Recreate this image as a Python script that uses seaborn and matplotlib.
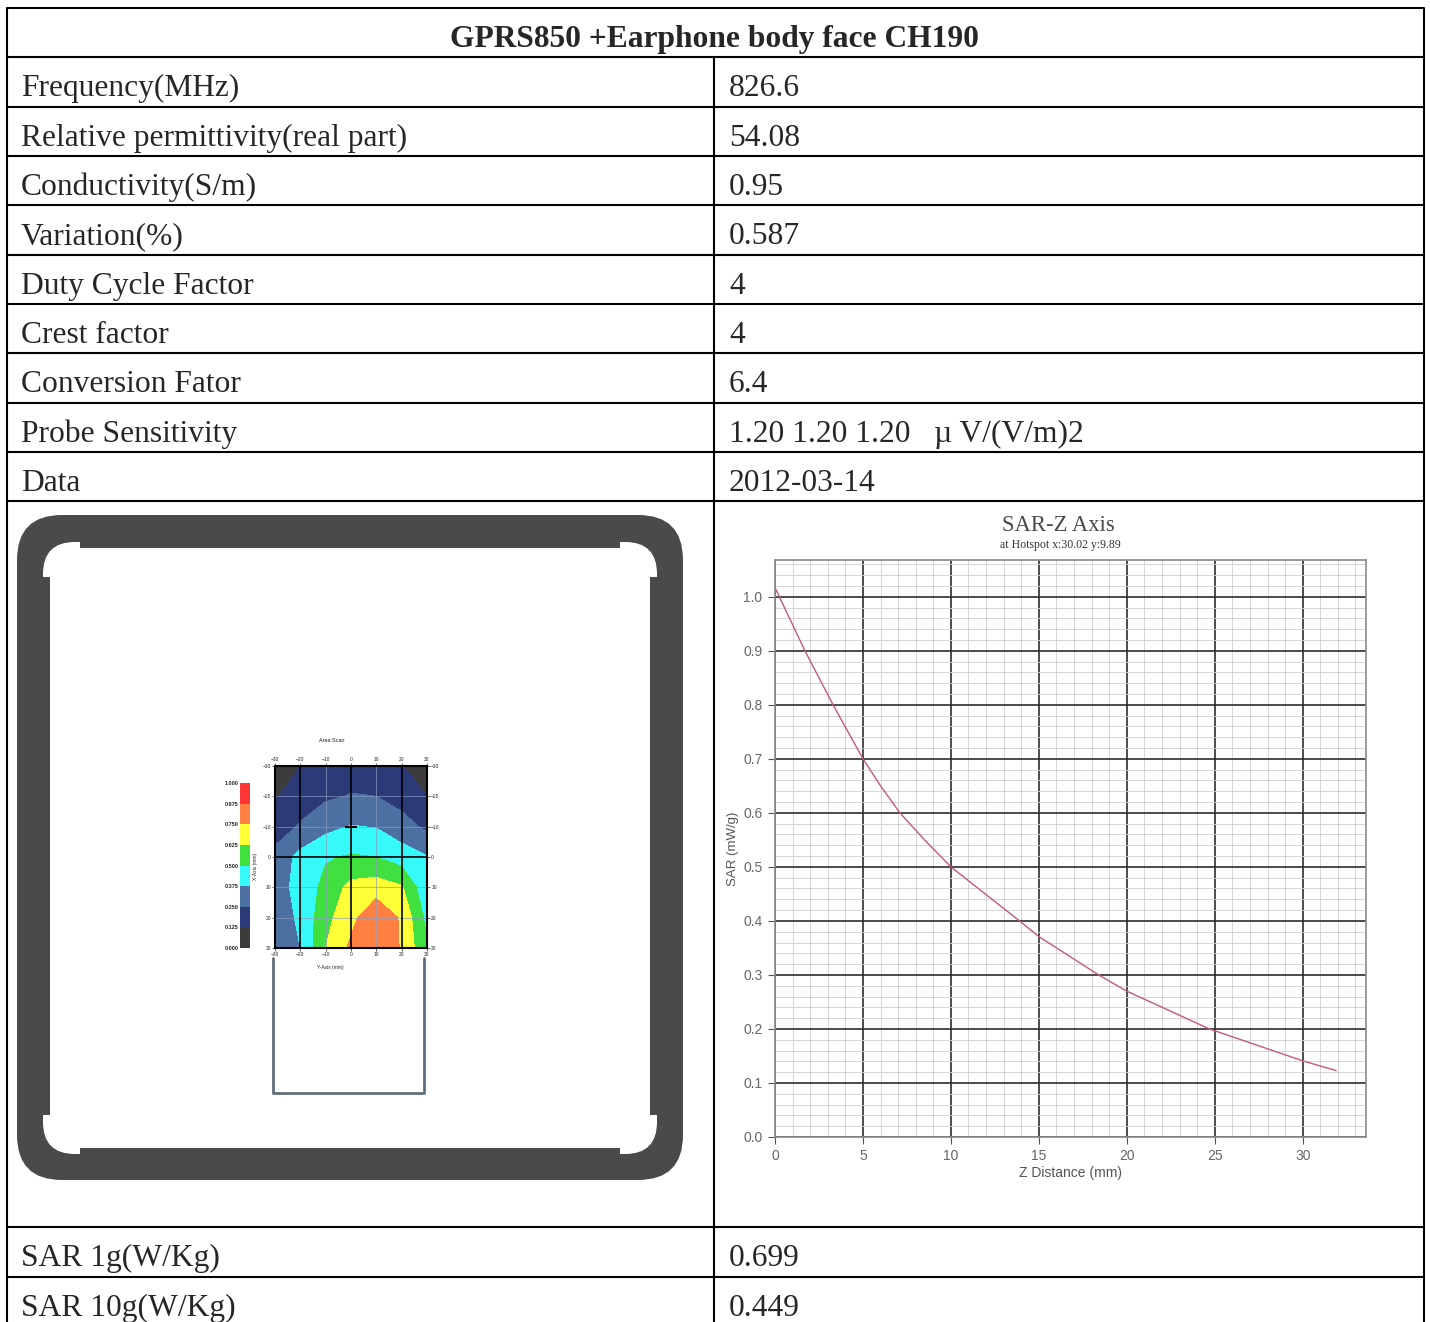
import numpy as np
import matplotlib
matplotlib.use("Agg")
import matplotlib.pyplot as plt
import seaborn as sns
from matplotlib.patches import FancyBboxPatch, Rectangle
from matplotlib.ticker import MultipleLocator, FormatStrFormatter

# --- Table content ---
header = "GPRS850 +Earphone body face CH190"
param_names = [
    "Frequency(MHz)",
    "Relative permittivity(real part)",
    "Conductivity(S/m)",
    "Variation(%)",
    "Duty Cycle Factor",
    "Crest factor",
    "Conversion Fator",
    "Probe Sensitivity",
    "Data",
]
param_values = [
    "826.6",
    "54.08",
    "0.95",
    "0.587",
    "4",
    "4",
    "6.4",
    "1.20 1.20 1.20   \u00b5 V/(V/m)2",
    "2012-03-14",
]
result_names = ["SAR 1g(W/Kg)", "SAR 10g(W/Kg)"]
result_values = ["0.699", "0.449"]

# --- SAR vs Z distance ---
z_mm = [0.0, 1.7, 3.3, 5.0, 6.0, 7.1, 8.5, 10.0, 13.9, 15.0, 18.4, 20.0, 24.7, 30.0, 31.9]
sar_mwg = [1.017, 0.90, 0.80, 0.70, 0.65, 0.60, 0.55, 0.50, 0.40, 0.371, 0.30, 0.27,
           0.20, 0.141, 0.123]

# --- Area scan levels (rows: X axis, cols: Y axis, in mm) ---
area_y = [-30, -20, -10, 0, 10, 20, 30]
area_x = [-30, -20, -10, 0, 10, 20, 30]
area_level = [
    [0.3, 1.0, 1.4, 1.6, 1.5, 1.05, 0.4],
    [0.9, 1.5, 1.85, 2.05, 2.0, 1.6, 1.0],
    [1.5, 2.1, 2.7, 3.05, 2.95, 2.4, 1.8],
    [2.3, 3.3, 3.9, 4.1, 4.0, 3.5, 3.05],
    [2.6, 3.3, 4.3, 5.3, 5.5, 5.1, 3.2],
    [2.5, 3.15, 4.7, 5.7, 6.85, 5.85, 3.7],
    [2.4, 3.0, 5.0, 6.2, 6.9, 5.9, 4.1],
]
level_bounds = [0, 1, 2, 3, 4, 5, 6, 7, 8]
level_labels = ["0.000", "0.125", "0.250", "0.375", "0.500",
                "0.625", "0.750", "0.875", "1.000"]
level_colors = ["#3c3c3c", "#2d3a78", "#4c70a2", "#36fafa",
                "#40e040", "#ffff38", "#ff8040", "#ff3434"]

sns.set_theme(style="white")
plt.rcParams["font.family"] = ["Liberation Sans", "DejaVu Sans"]

W, H = 1430, 1322
fig = plt.figure(figsize=(W / 100, H / 100), dpi=100)
bg = fig.add_axes([0, 0, 1, 1])
bg.set_xlim(0, W)
bg.set_ylim(H, 0)
bg.axis("off")


def px_axes(x0, y0, x1, y1):
    return fig.add_axes([x0 / W, 1 - y1 / H, (x1 - x0) / W, (y1 - y0) / H])


# --- table grid ---
row_lines = [8, 57, 107, 156, 205, 255, 304, 353, 403, 452, 501, 1227, 1277]
for y in row_lines:
    bg.plot([7, 1424], [y, y], color="black", lw=1.5, solid_capstyle="butt")
bg.plot([7, 7], [8, H], color="black", lw=1.5)
bg.plot([1424, 1424], [8, H], color="black", lw=1.5)
bg.plot([714, 714], [57, H], color="black", lw=1.5)

serif = "Liberation Serif"
fs = 22.7
bg.text(715, 47, header, ha="center", va="baseline", family=serif,
        fontsize=fs, fontweight="bold")
for top, name, val in zip(row_lines[1:10], param_names, param_values):
    bg.text(21, top + 39, name, va="baseline", family=serif, fontsize=fs)
    bg.text(729, top + 39, val, va="baseline", family=serif, fontsize=fs)
for top, name, val in zip(row_lines[11:], result_names, result_values):
    bg.text(21, top + 39, name, va="baseline", family=serif, fontsize=fs)
    bg.text(729, top + 39, val, va="baseline", family=serif, fontsize=fs)

# --- phone outline frame in left cell ---
dark = "#4a4a4a"
bg.add_patch(FancyBboxPatch((17, 515), 666, 665,
                            boxstyle="round,pad=0,rounding_size=45",
                            fc=dark, ec="none"))
bg.add_patch(FancyBboxPatch((43, 542), 614, 612,
                            boxstyle="round,pad=0,rounding_size=32",
                            fc="white", ec="none"))
bg.add_patch(Rectangle((80, 541), 540, 7, fc=dark, ec="none"))
bg.add_patch(Rectangle((80, 1148), 540, 7, fc=dark, ec="none"))
bg.add_patch(Rectangle((42, 577), 8, 538, fc=dark, ec="none"))
bg.add_patch(Rectangle((650, 577), 8, 538, fc=dark, ec="none"))

# outline below the area scan
bg.plot([273, 273, 424, 424], [958, 1093, 1093, 958], color="#5f6e7a", lw=2)

# --- area scan contour ---
hx = px_axes(275, 766, 427, 948)
cf = hx.contourf(area_y, area_x, area_level, levels=level_bounds, colors=level_colors)
hx.set_xlim(-30, 30)
hx.set_ylim(30, -30)
for v in (-10, 10):
    hx.axvline(v, color="#8a9bc0", lw=0.6, alpha=0.8)
for v in (-20, -10, 10, 20):
    hx.axhline(v, color="#8a9bc0", lw=0.6, alpha=0.8)
for v in (-20, 0, 20):
    hx.axvline(v, color="black", lw=1.2)
hx.axhline(0, color="black", lw=1.2)
hx.plot(0, -10, marker="_", color="black", ms=8, mew=1.5)
hx.set_xticks(area_y)
hx.set_yticks(area_x)
hx.tick_params(labelsize=3.5, length=2, width=0.5, bottom=True, left=True,
               top=True, right=True, labeltop=True, labelright=True, pad=1)
for s in hx.spines.values():
    s.set_color("black")
    s.set_linewidth(1.5)
bg.text(332, 741, "Area Scan", ha="center", va="center", fontsize=4)
bg.text(330, 967, "Y-Axis (mm)", ha="center", va="center", fontsize=3.5)
bg.text(256, 866, "X-Axis (mm)", ha="center", va="center", fontsize=3.5, rotation=90)

cax = px_axes(240, 783, 250, 948)
cb = fig.colorbar(cf, cax=cax, ticks=level_bounds)
cb.outline.set_visible(False)
cax.yaxis.set_ticks_position("left")
cb.set_ticklabels(level_labels)
cax.tick_params(labelsize=4, length=0, pad=1)
for lab in cax.get_yticklabels():
    lab.set_fontweight("bold")

# --- SAR-Z axis chart ---
ax = px_axes(775, 560, 1366, 1137)
sns.lineplot(x=z_mm, y=sar_mwg, ax=ax, color="#c65a72", lw=1.0)
ax.set_xlim(0, 33.6)
ax.set_ylim(0, 1.068)
ax.xaxis.set_major_locator(MultipleLocator(5))
ax.xaxis.set_minor_locator(MultipleLocator(1))
ax.yaxis.set_major_locator(MultipleLocator(0.1))
ax.yaxis.set_minor_locator(MultipleLocator(0.02))
ax.yaxis.set_major_formatter(FormatStrFormatter("%.1f"))
ax.grid(which="major", color="#2e2e2e", lw=1.2)
ax.grid(which="minor", color="#cfcfcf", lw=0.6)
ax.set_axisbelow(True)
ax.tick_params(which="major", direction="out", length=5, width=0.8, color="#555555",
               labelsize=10, labelcolor="#666666", pad=4, bottom=True, left=True)
ax.tick_params(which="minor", length=0)
for s in ax.spines.values():
    s.set_color("#8a8a8a")
    s.set_linewidth(1.2)
ax.set_xlabel("Z Distance (mm)", fontsize=10, color="#555555", labelpad=2)
ax.set_ylabel("SAR (mW/g)", fontsize=9.5, color="#555555", labelpad=3)

bg.text(1058, 531, "SAR-Z Axis", ha="center", va="baseline", family=serif,
        fontsize=16.3, color="#4a4a4a")
bg.text(1060, 548, "at Hotspot x:30.02 y:9.89", ha="center", va="baseline",
        family=serif, fontsize=8.5, color="#333333")

fig.savefig("out.png", dpi=100)
